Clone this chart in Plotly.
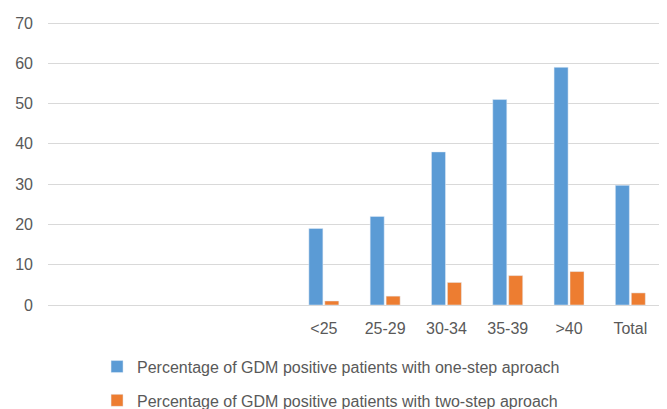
import plotly.graph_objects as go

categories = ["", "", "", "", "<25", "25-29", "30-34", "35-39", ">40", "Total"]
one_step = [None, None, None, None, 19, 22, 38, 51, 59, 29.7]
two_step = [None, None, None, None, 1.0, 2.2, 5.6, 7.3, 8.3, 3.0]
y_ticks = [0, 10, 20, 30, 40, 50, 60, 70]
name_one = "Percentage of GDM positive patients with one-step aproach"
name_two = "Percentage of GDM positive patients with two-step aproach"

pos = list(range(len(categories)))

fig = go.Figure()
fig.add_trace(go.Bar(x=pos, y=one_step, name=name_one, marker_color="#5B9BD5",
                     legendgroup="a"))
fig.add_trace(go.Bar(x=pos, y=two_step, name=name_two, marker_color="#ED7D31",
                     legendgroup="b"))

font = dict(family="Liberation Sans, Arial, sans-serif", size=16, color="#595959")
fig.update_layout(
    width=659, height=401,
    margin=dict(l=40, r=6, t=13, b=104, autoexpand=False),
    paper_bgcolor="white", plot_bgcolor="white",
    font=font,
    barmode="group", bargap=0.48, bargroupgap=0.12,
    showlegend=True,
    legend=dict(orientation="v", x=0.08, xanchor="left", yref="container",
                y=0.148, yanchor="top",
                traceorder="grouped", tracegroupgap=10, font=font),
    xaxis=dict(tickmode="array", tickvals=pos, ticktext=categories,
               range=[-0.5, len(categories) - 0.5], showgrid=False, automargin=False,
               showline=False, zeroline=False, ticks="", ticklabelstandoff=12),
    yaxis=dict(range=[0, 70.5], tickvals=y_ticks, showgrid=True, gridcolor="#D9D9D9",
               gridwidth=1.4, zeroline=True, zerolinecolor="#D9D9D9", zerolinewidth=1.4,
               showline=False, ticks="", ticklabelstandoff=14, automargin=False),
)

fig.write_html("out.html")
